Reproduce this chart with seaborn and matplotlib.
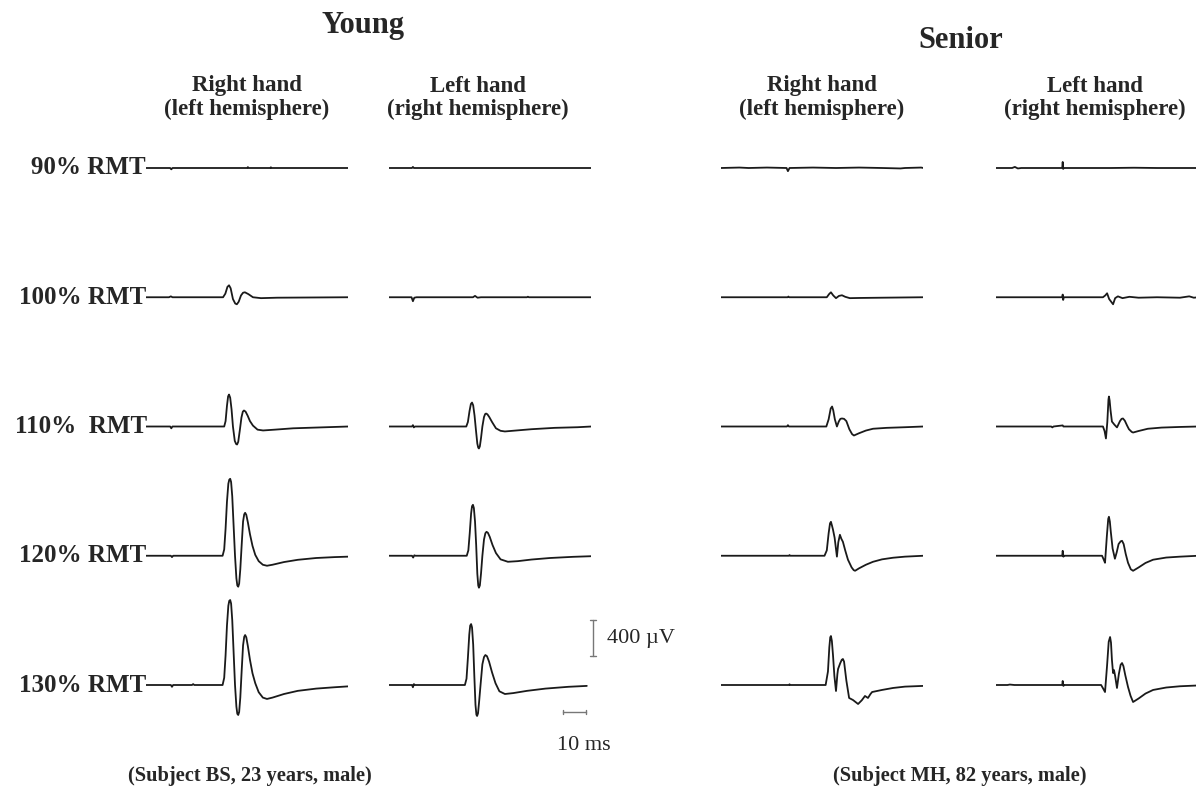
import numpy as np
import pandas as pd
import seaborn as sns
import matplotlib
matplotlib.use("Agg")
import matplotlib.pyplot as plt

# ---- data: MEP traces as (time ms, amplitude uV) keypoints ----
stim_levels = ["90% RMT", "100% RMT", "110% RMT", "120% RMT", "130% RMT"]
panels = ["young_right", "young_left", "senior_right", "senior_left"]

young_right_90 = [(0, 0), (10.5, 0), (11, -15), (11.5, 0), (44, 0), (44.3, 10), (44.6, 0),
                  (54, 0), (54.3, 8), (54.6, 0), (88, 0)]
young_right_100 = [(0, 0), (10, 0), (10.8, 10), (11.5, 0), (33.5, 0), (34.5, 40), (35.4, 115),
                   (36.1, 133), (36.8, 100), (37.8, -20), (38.8, -70), (39.5, -78), (40.3, -50),
                   (41.3, 20), (42.2, 50), (43.0, 55), (44.5, 35), (46.5, 0), (50, -10), (57, -5),
                   (88, 0)]
young_right_110 = [(0, 0), (10.5, 0), (11, -20), (11.5, 0), (34.0, 0), (34.6, 60), (35.2, 230),
                   (35.7, 335), (36.1, 355), (36.6, 320), (37.2, 190), (37.8, 0), (38.6, -160),
                   (39.2, -195), (39.6, -200), (40.1, -170), (40.8, -40), (41.5, 100), (42.1, 165),
                   (42.6, 178), (43.3, 165), (44.2, 120), (45.2, 60), (46.5, 10), (48.5, -35),
                   (50.9, -44), (56, -35), (64, -20), (76, -10), (88, 0)]
young_right_120 = [(0, 0), (10.8, 0), (11.3, -15), (11.8, 0), (33.3, 0), (34.0, 70), (34.6, 300),
                   (35.2, 600), (35.8, 800), (36.2, 845), (36.6, 855), (37.0, 820), (37.5, 660),
                   (38.1, 330), (38.7, 0), (39.3, -250), (39.7, -330), (40.1, -344), (40.5, -310),
                   (41.0, -150), (41.6, 120), (42.2, 380), (42.7, 460), (43.1, 477), (43.6, 455),
                   (44.3, 370), (45.2, 240), (46.3, 110), (47.5, 10), (49.0, -60), (50.8, -100),
                   (52.6, -111), (55, -100), (60, -70), (66, -45), (74, -25), (82, -15), (88, -10)]
young_right_130 = [(0, 0), (10.8, 0), (11.3, -20), (11.8, 0), (20, 0), (20.5, 10), (21, 0),
                   (33.3, 0), (34.0, 80), (34.6, 330), (35.2, 660), (35.8, 880), (36.2, 935),
                   (36.6, 944), (37.0, 905), (37.5, 720), (38.1, 360), (38.7, 0), (39.3, -240),
                   (39.7, -320), (40.1, -333), (40.5, -300), (41.0, -140), (41.6, 160),
                   (42.2, 440), (42.7, 535), (43.1, 555), (43.6, 530), (44.3, 430), (45.2, 280),
                   (46.3, 130), (47.5, 20), (49.0, -80), (50.8, -140), (52.6, -155), (55, -140),
                   (60, -100), (66, -65), (74, -40), (82, -25), (88, -15)]

young_left_90 = [(0, 0), (10.0, 0), (10.4, 12), (10.8, 0), (88, 0)]
young_left_100 = [(0, 0), (9.8, 0), (10.4, -44), (11.0, -5), (12, 0), (36.5, 0), (37.4, 15),
                  (38.5, -5), (40, 0), (60, 0), (60.4, 6), (60.8, 0), (88, 0)]
young_left_110 = [(0, 0), (10.0, 0), (10.4, 15), (10.8, -10), (11.3, 0), (33.6, 0), (34.3, 50),
                  (35.0, 170), (35.6, 250), (36.1, 266), (36.6, 235), (37.2, 120), (37.8, -40),
                  (38.4, -190), (38.8, -235), (39.1, -244), (39.5, -220), (40.0, -130),
                  (40.6, 0), (41.3, 105), (41.8, 138), (42.2, 144), (42.8, 135), (43.6, 105),
                  (44.8, 50), (46.5, -20), (48.5, -48), (50.4, -55), (55, -45), (62, -30),
                  (72, -15), (82, -8), (88, 0)]
young_left_120 = [(0, 0), (10.0, 0), (10.5, -20), (11.0, 5), (11.5, 0), (33.8, 0), (34.5, 60),
                  (35.1, 250), (35.7, 470), (36.1, 550), (36.5, 566), (36.9, 530), (37.4, 380),
                  (37.9, 120), (38.4, -200), (38.8, -330), (39.1, -355), (39.5, -330),
                  (40.0, -200), (40.6, 0), (41.3, 180), (41.9, 250), (42.4, 266), (43.0, 255),
                  (43.8, 210), (45.0, 120), (46.5, 30), (48.5, -40), (51.7, -67), (56, -60),
                  (62, -42), (70, -25), (80, -12), (88, -5)]
young_left_130 = [(0, 0), (10.0, 0), (10.4, -25), (10.8, 10), (11.3, 0), (33.0, 0), (33.7, 70),
                  (34.3, 300), (34.9, 560), (35.3, 660), (35.7, 677), (36.1, 640), (36.6, 450),
                  (37.1, 100), (37.6, -220), (38.0, -330), (38.3, -344), (38.7, -315),
                  (39.2, -180), (39.8, 0), (40.6, 230), (41.3, 310), (41.9, 333), (42.6, 320),
                  (43.5, 260), (44.8, 140), (46.3, 20), (48.0, -70), (50.4, -100), (54, -90),
                  (60, -65), (68, -40), (78, -20), (86, -10)]

senior_right_90 = [(0, 0), (8, 5), (12, 0), (20, 5), (28.5, 0), (29.1, -35), (29.8, 0), (40, 5),
                   (50, 0), (60, 5), (70, 0), (78, -5), (80, 0), (87, 5), (88, 0)]
senior_right_100 = [(0, 0), (29, 0), (29.3, 8), (29.6, 0), (46.0, 0), (47.0, 35), (47.8, 55),
                    (48.8, 20), (50.0, -10), (51.3, 15), (52.6, 22), (54, 5), (56, -10),
                    (60, -8), (70, -5), (88, 0)]
senior_right_110 = [(0, 0), (28.7, 0), (29.1, 15), (29.5, 0), (45.8, 0), (46.8, 80), (47.7, 200),
                    (48.3, 222), (48.8, 180), (49.5, 80), (50.4, 0), (51.2, 55), (51.9, 85),
                    (52.6, 89), (53.5, 85), (54.5, 60), (55.8, -30), (57.0, -85), (57.8, -100),
                    (60, -75), (63, -45), (66.1, -25), (72, -15), (80, -8), (88, 0)]
senior_right_120 = [(0, 0), (29.5, 0), (29.8, 8), (30.1, 0), (45.0, 0), (46.0, 60), (46.8, 250),
                    (47.4, 360), (47.8, 377), (48.3, 330), (48.7, 289), (49.4, 200), (50.4, -10),
                    (51.0, 150), (51.7, 233), (52.3, 190), (53.0, 155), (54.0, 60), (55.2, -44),
                    (56.8, -130), (57.7, -160), (58.3, -167), (60, -140), (63, -100),
                    (66.1, -67), (70, -40), (74.8, -22), (80, -10), (88, 0)]
senior_right_130 = [(0, 0), (29.5, 0), (29.8, 8), (30.1, 0), (45.5, 0), (46.5, 150), (47.1, 420),
                    (47.5, 530), (47.8, 544), (48.2, 490), (48.7, 330), (49.3, 100), (50.0, -67),
                    (50.6, 120), (50.9, 178), (51.8, 240), (52.5, 280), (53.0, 289), (53.5, 260),
                    (54.5, 50), (55.7, -144), (57.4, -167), (59.6, -211), (61.2, -170),
                    (62.6, -122), (63.9, -144), (65.0, -100), (65.7, -78), (70, -55), (74.8, -33),
                    (80, -18), (88, -10)]

senior_left_90 = [(0, 0), (7, 0), (8.2, 12), (9.5, -5), (11, 0), (28.8, 0), (29.0, 67),
                  (29.2, -10), (29.5, 0), (50, 0), (60, 3), (70, 0), (88, 0)]
senior_left_100 = [(0, 0), (28.8, 0), (29.0, 30), (29.2, -30), (29.5, 0), (46.5, 0), (47.5, 20),
                   (48.3, 44), (49.2, -20), (50.9, -78), (51.8, -10), (53, 10), (55, -10),
                   (58, 5), (62, -5), (70, 0), (80, -5), (84, 10), (86, -5), (88, 0)]
senior_left_110 = [(0, 0), (24, 0), (24.5, -10), (25, 0), (29.0, 12), (29.3, 0), (46.5, 0),
                   (47.2, -50), (47.8, -133), (48.4, 50), (48.9, 300), (49.1, 333), (49.4, 290),
                   (49.8, 180), (50.4, 55), (51.5, 20), (52.6, -10), (53.9, 60), (54.6, 85),
                   (55.2, 89), (56.0, 65), (57.0, 10), (57.8, -30), (59.0, -60), (59.6, -67),
                   (62, -50), (66, -25), (72, -12), (80, -5), (88, 0)]
senior_left_120 = [(0, 0), (28.8, 0), (29.0, 55), (29.3, -10), (29.7, 0), (46.1, 0), (46.8, -40),
                   (47.4, -78), (48.2, 220), (48.8, 410), (49.1, 433), (49.5, 380), (49.9, 270),
                   (50.7, 80), (51.7, -33), (52.5, 40), (53.3, 130), (54.2, 160), (54.8, 166),
                   (55.5, 130), (56.4, 20), (57.4, -78), (58.6, -150), (59.6, -167), (62, -130),
                   (65, -80), (68.3, -44), (74, -20), (80, -10), (88, 0)]
senior_left_130 = [(0, 0), (5, 0), (6, 5), (8, 0), (28.8, 0), (29.0, 45), (29.3, -10), (29.7, 0),
                   (45.7, 0), (46.6, -40), (47.4, -78), (48.3, 220), (49.0, 480), (49.6, 533),
                   (50.0, 470), (50.4, 280), (50.9, 133), (51.3, 166), (51.8, 100), (52.6, -33),
                   (53.4, 120), (54.2, 225), (54.8, 244), (55.4, 210), (56.2, 110), (57.4, -22),
                   (58.5, -120), (59.6, -189), (62, -150), (65, -95), (68.3, -55), (74, -28),
                   (80, -14), (88, -5)]

traces = {
    "young_right": [young_right_90, young_right_100, young_right_110, young_right_120, young_right_130],
    "young_left": [young_left_90, young_left_100, young_left_110, young_left_120, young_left_130],
    "senior_right": [senior_right_90, senior_right_100, senior_right_110, senior_right_120, senior_right_130],
    "senior_left": [senior_left_90, senior_left_100, senior_left_110, senior_left_120, senior_left_130],
}

# ---- layout (pixels of the 1196x801 canvas) ----
W, H = 1196, 801
PX_PER_MS = 2.3
UV_PER_PX = 400 / 36.0
TOP_BASE = 168          # baseline of first row
ROW_GAP = 129.25        # px between rows
panel_x0 = {"young_right": 146, "young_left": 389, "senior_right": 721, "senior_left": 996}
SPAN_MS = 88

sns.set_theme(style="white")
plt.rcParams["font.family"] = ["Liberation Serif", "DejaVu Serif"]

rows = []
for p in panels:
    for r, pts in enumerate(traces[p]):
        for t, v in pts:
            rows.append({"panel": p, "row": r, "ms": t, "uv": v - r * ROW_GAP * UV_PER_PX})
df = pd.DataFrame(rows)

fig = plt.figure(figsize=(W / 100, H / 100), dpi=100)


def fpos(x, y):
    return x / W, 1 - y / H


axes = {}
for p in panels:
    ax = fig.add_axes([panel_x0[p] / W, 0, SPAN_MS * PX_PER_MS / W, 1])
    sns.lineplot(data=df[df.panel == p], x="ms", y="uv", units="row", estimator=None,
                 sort=False, color="#1a1a1a", linewidth=1.3, ax=ax, legend=False)
    ax.set_xlim(0, SPAN_MS)
    ax.set_ylim(-(H - TOP_BASE) * UV_PER_PX, TOP_BASE * UV_PER_PX)
    ax.axis("off")
    axes[p] = ax

# scale bars (drawn in young-left panel data units)
ax = axes["young_left"]
bar_x = (593 - 389) / PX_PER_MS
bar_top = (TOP_BASE - 620) * UV_PER_PX
ax.plot([bar_x, bar_x], [bar_top, bar_top - 400], color="#777777", lw=1.0, clip_on=False)
ax.plot([bar_x - 1.2, bar_x + 1.2], [bar_top, bar_top], color="#777777", lw=1.0, clip_on=False)
ax.plot([bar_x - 1.2, bar_x + 1.2], [bar_top - 400, bar_top - 400], color="#777777", lw=1.0, clip_on=False)
hb_x = (563 - 389) / PX_PER_MS
hb_y = (TOP_BASE - 712) * UV_PER_PX
ax.plot([hb_x, hb_x + 10], [hb_y, hb_y], color="#777777", lw=1.0, clip_on=False)
for xx in (hb_x, hb_x + 10):
    ax.plot([xx, xx], [hb_y - 25, hb_y + 25], color="#777777", lw=1.0, clip_on=False)

fig.text(*fpos(607, 638), "400 \u00b5V", fontsize=16, ha="left", va="center")
fig.text(*fpos(584, 745), "10 ms", fontsize=16, ha="center", va="center")

# titles and headers
fig.text(*fpos(363, 25), "Young", fontsize=22, fontweight="bold", ha="center", va="center")
fig.text(*fpos(961, 40), "Senior", fontsize=22, fontweight="bold", ha="center", va="center")
headers = [("Right hand", "(left hemisphere)"), ("Left hand", "(right hemisphere)")]
for cx, (l1, l2) in zip([247, 478, 822, 1095], headers * 2):
    fig.text(*fpos(cx, 86), l1, fontsize=16.5, fontweight="bold", ha="center", va="center")
    fig.text(*fpos(cx, 109), l2, fontsize=16.5, fontweight="bold", ha="center", va="center")

label_right = [146, 146, 147, 146, 146]
for r, lab in enumerate(stim_levels):
    txt = lab if r != 2 else lab.replace(" ", "  ")
    fig.text(*fpos(label_right[r], TOP_BASE + r * ROW_GAP), txt, fontsize=18,
             fontweight="bold", ha="right", va="center")

fig.text(*fpos(250, 776), "(Subject BS, 23 years, male)", fontsize=14.7, fontweight="bold",
         ha="center", va="center")
fig.text(*fpos(960, 776), "(Subject MH, 82 years, male)", fontsize=14.7, fontweight="bold",
         ha="center", va="center")

fig.savefig("out.png", dpi=100, facecolor="white")
